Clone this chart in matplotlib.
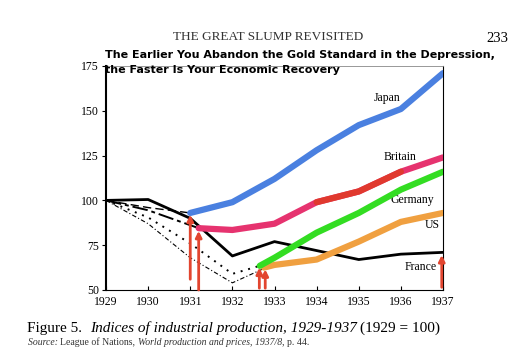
import matplotlib.pyplot as plt

# index values (1929 = 100)
years = [1929, 1930, 1931, 1932, 1933, 1934, 1935, 1936, 1937]
france = [100, 100.5, 90, 69, 77, 72, 67, 70, 71]

# black (pre-devaluation) segments
japan_pre_x = [1929, 1930, 1931]
japan_pre = [100, 96, 93]
britain_pre_x = [1929, 1930, 1931.2]
britain_pre = [100, 94.5, 84.5]
germany_pre_x = [1929, 1930, 1931, 1932, 1932.65]
germany_pre = [100, 90.5, 76, 59, 63.5]
us_pre_x = [1929, 1930, 1931, 1932, 1932.75]
us_pre = [100, 87, 68, 54, 62]

# coloured (post-devaluation) segments
japan_x = [1931, 1932, 1933, 1934, 1935, 1936, 1937]
japan = [93, 99, 112, 128, 142, 151, 171]
britain_x = [1931.2, 1932, 1933, 1934, 1935, 1936, 1937]
britain = [84.5, 83.5, 87, 99, 105, 116, 124]
germany_x = [1932.65, 1933, 1934, 1935, 1936, 1937]
germany = [63.5, 68, 82, 93, 106, 116]
us_x = [1932.75, 1933, 1934, 1935, 1936, 1937]
us = [62.5, 64, 67, 77, 88, 93]

# red arrows: x, bottom, tip
arrow_x = [1931, 1931.2, 1932.64, 1932.78, 1936.97]
arrow_from = [56, 50, 51, 51, 51.5]
arrow_to = [92, 83, 62.5, 61.5, 69.5]

serif = 'Liberation Serif'

fig = plt.figure(figsize=(5.25, 3.64), dpi=100)
ax = fig.add_axes([106/525, 1-290/364, (443-106)/525, (290-66)/364])
ax.set_xlim(1929, 1937)
ax.set_ylim(50, 175)

# black lines from the book figure
ax.plot(years, france, color='black', lw=2, zorder=3)
ax.plot(japan_pre_x, japan_pre, color='black', lw=1, ls=(0, (6, 3)))
ax.plot(britain_pre_x, britain_pre, color='black', lw=1.4, ls=(0, (8, 2, 2, 2)))
ax.plot(germany_pre_x, germany_pre, color='black', lw=1.4, ls=(0, (1, 3)))
ax.plot(us_pre_x, us_pre, color='black', lw=0.8, ls=(0, (4, 2, 1, 2)))

# coloured overlays
ax.plot(japan_x, japan, color='#4a80e0', lw=4.5, solid_capstyle='round', zorder=4)
ax.plot(britain_x, britain, color='#e6336f', lw=4.5, solid_capstyle='round', zorder=4)
ax.plot(britain_x[3:6], britain[3:6], color='#e0392e', lw=4.5, solid_capstyle='round', zorder=4)
ax.plot(germany_x, germany, color='#33dd22', lw=4.5, solid_capstyle='round', zorder=5)
ax.plot(us_x, us, color='#f0a040', lw=4.5, solid_capstyle='round', zorder=4)

for x, y0, y1 in zip(arrow_x, arrow_from, arrow_to):
    ax.annotate('', xy=(x, y1), xytext=(x, y0), annotation_clip=False,
                arrowprops=dict(arrowstyle='-|>', color='#e2452f', lw=2,
                                mutation_scale=9, shrinkA=0, shrinkB=0), zorder=6)

labels = [('Japan', 1935.67, 157), ('Britain', 1935.98, 124), ('Germany', 1936.27, 100),
          ('US', 1936.74, 86), ('France', 1936.46, 63)]
for s, x, y in labels:
    ax.text(x, y, s, family=serif, fontsize=8.5, ha='center', va='center')

ax.set_xticks(years)
ax.set_yticks([50, 75, 100, 125, 150, 175])
ax.tick_params(axis='x', direction='in', length=3, pad=4)
ax.tick_params(axis='y', direction='out', length=3, pad=2)
for lab in ax.get_xticklabels() + ax.get_yticklabels():
    lab.set_family(serif)
    lab.set_fontsize(8.5)
ax.spines['left'].set_linewidth(1.5)
ax.spines['bottom'].set_linewidth(0.8)
ax.spines['top'].set_linewidth(0.6)
ax.spines['top'].set_color('#888888')
ax.spines['right'].set_linewidth(0.8)

# page header
fig.text(268/525, 1-37/364, 'THE GREAT SLUMP REVISITED', family=serif, fontsize=9.5,
         color='#333333', ha='center', va='center')
fig.text(497/525, 1-38/364, '233', family=serif, fontsize=10.5, ha='center', va='center')

# title
fig.text(105/525, 1-55/364, 'The Earlier You Abandon the Gold Standard in the Depression,',
         family='DejaVu Sans', fontweight='bold', fontsize=8, va='center')
fig.text(105/525, 1-70/364, 'the Faster Is Your Economic Recovery',
         family='DejaVu Sans', fontweight='bold', fontsize=8, va='center', zorder=10)

# caption
t1 = fig.text(27/525, 1-332/364, 'Figure 5.  ', family=serif, fontsize=11, va='baseline')
t2 = ax.annotate('Indices of industrial production, 1929-1937 ', xy=(1, 0), xycoords=t1,
                 family=serif, style='italic', fontsize=11, va='bottom')
ax.annotate('(1929 = 100)', xy=(1, 0), xycoords=t2, family=serif, fontsize=11, va='bottom')

s1 = fig.text(28/525, 1-345/364, 'Source: ', family=serif, style='italic', fontsize=7,
              color='#333333', va='baseline')
s2 = ax.annotate('League of Nations, ', xy=(1, 0), xycoords=s1, family=serif, fontsize=7,
                 color='#333333', va='bottom')
s3 = ax.annotate('World production and prices, 1937/8', xy=(1, 0), xycoords=s2, family=serif,
                 style='italic', fontsize=7, color='#333333', va='bottom')
ax.annotate(', p. 44.', xy=(1, 0), xycoords=s3, family=serif, fontsize=7,
            color='#333333', va='bottom')

fig.savefig('out.png', dpi=100)
